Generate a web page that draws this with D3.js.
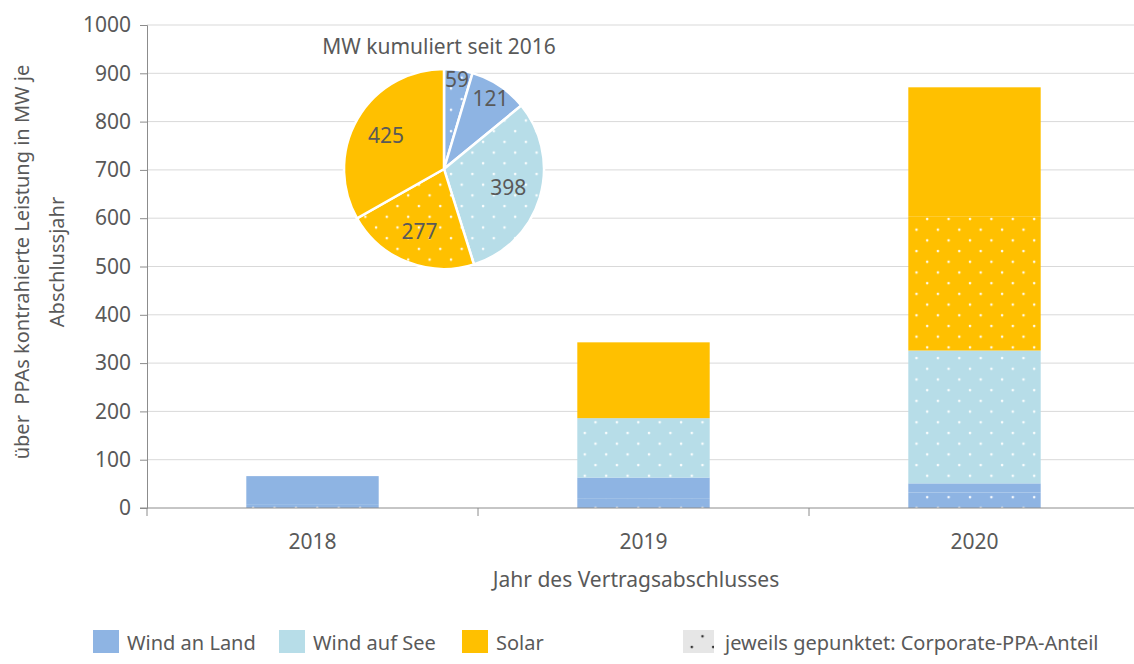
<!DOCTYPE html>
<html>
<head>
<meta charset="utf-8">
<script src="https://cdn.jsdelivr.net/npm/d3@7"></script>
<style>
  body { margin: 0; background: #fff; }
  svg text { font-family: "Noto Sans", sans-serif; fill: #595959; white-space: pre; }
</style>
</head>
<body>
<div id="chart"></div>
<script>
// data
const years = ["2018", "2019", "2020"];
const segments = [
  { key: "landCorp",  tech: "Wind an Land", dotted: true },
  { key: "land",      tech: "Wind an Land", dotted: false },
  { key: "seeCorp",   tech: "Wind auf See", dotted: true },
  { key: "solarCorp", tech: "Solar",        dotted: true },
  { key: "solar",     tech: "Solar",        dotted: false }
];
const landCorp  = [8, 19, 32];
const land      = [58, 44, 19];
const seeCorp   = [0, 123, 275];
const solarCorp = [0, 0, 277];
const solar     = [0, 157, 268];

const pieValues = [59, 121, 398, 277, 425];
const pieTechs  = ["Wind an Land", "Wind an Land", "Wind auf See", "Solar", "Solar"];
const pieDotted = [true, false, true, true, false];

const yTicks = [0, 100, 200, 300, 400, 500, 600, 700, 800, 900, 1000];
const legendItems = ["Wind an Land", "Wind auf See", "Solar"];

const colors = { "Wind an Land": "#8eb4e3", "Wind auf See": "#b7dde8", "Solar": "#ffc000" };

const width = 1134, height = 664;
const margin = { left: 147, right: -6, top: 25, bottom: 156 };
const fs = 21;

const svg = d3.select("#chart").append("svg")
  .attr("width", width).attr("height", height);

// dot patterns, one per colour plus the legend sample
const defs = svg.append("defs");
function dotPattern(id, bg, dot) {
  const p = defs.append("pattern").attr("id", id)
    .attr("patternUnits", "userSpaceOnUse")
    .attr("width", 21.4).attr("height", 21.4)
    .attr("x", 4).attr("y", 2);
  p.append("rect").attr("width", 21.4).attr("height", 21.4).attr("fill", bg);
  p.append("circle").attr("cx", 3).attr("cy", 3).attr("r", 1.3).attr("fill", dot);
  p.append("circle").attr("cx", 13.7).attr("cy", 13.7).attr("r", 1.3).attr("fill", dot);
}
Object.entries(colors).forEach(([k, c], i) => dotPattern("dots" + i, c, "rgba(255,255,255,0.9)"));
dotPattern("dotsLegend", "#e6e6e6", "#333");
const fillFor = (tech, dotted) => dotted
  ? `url(#dots${Object.keys(colors).indexOf(tech)})`
  : colors[tech];

const x = d3.scaleBand().domain(years)
  .range([margin.left, width - margin.right]).paddingInner(0.6).paddingOuter(0.3);
const y = d3.scaleLinear().domain([0, 1000]).range([height - margin.bottom, margin.top]);

// gridlines
svg.append("g").selectAll("line").data(yTicks.slice(1)).join("line")
  .attr("x1", margin.left).attr("x2", width)
  .attr("y1", d => y(d)).attr("y2", d => y(d))
  .attr("stroke", "#d9d9d9").attr("stroke-width", 1);

// stacked bars
const series = { landCorp, land, seeCorp, solarCorp, solar };
const stack = d3.stack().keys(segments.map(s => s.key))(
  years.map((yr, i) => {
    const o = { year: yr };
    segments.forEach(s => o[s.key] = series[s.key][i]);
    return o;
  })
);
stack.forEach((layer, li) => {
  const seg = segments[li];
  svg.append("g").selectAll("rect").data(layer.filter(d => d[1] > d[0])).join("rect")
    .attr("x", d => x(d.data.year))
    .attr("width", x.bandwidth())
    .attr("y", d => y(d[1]))
    .attr("height", d => y(d[0]) - y(d[1]))
    .attr("fill", fillFor(seg.tech, seg.dotted));
});

// axes
const yAxis = svg.append("g").attr("transform", `translate(${margin.left},0)`)
  .call(d3.axisLeft(y).tickValues(yTicks).tickFormat(d3.format("d")).tickSize(7).tickPadding(9));
const xAxis = svg.append("g").attr("transform", `translate(0,${y(0)})`)
  .call(d3.axisBottom(x).tickSize(0).tickPadding(26));
[yAxis, xAxis].forEach(g => {
  g.attr("font-size", null).attr("font-family", null);
  g.select(".domain").attr("stroke", "#8c8c8c");
  g.selectAll(".tick line").attr("stroke", "#8c8c8c");
  g.selectAll(".tick text").attr("font-size", fs).attr("fill", "#595959");
});
xAxis.select(".domain").attr("d", `M${margin.left - 7},0H${width}`);
// category separators on the x axis
const step = x.step();
svg.append("g").selectAll("line").data(years).join("line")
  .attr("x1", d => x(d) - step * 0.3).attr("x2", d => x(d) - step * 0.3)
  .attr("y1", y(0)).attr("y2", y(0) + 8)
  .attr("stroke", "#8c8c8c");

// axis titles
svg.append("text").attr("x", 636).attr("y", 587).attr("text-anchor", "middle")
  .attr("font-size", fs).text("Jahr des Vertragsabschlusses");
const yt = svg.append("text").attr("transform", `translate(29,262) rotate(-90)`)
  .attr("text-anchor", "middle").attr("font-size", 20);
yt.append("tspan").attr("x", 0).attr("dy", 0).text("über  PPAs kontrahierte Leistung in MW je");
yt.append("tspan").attr("x", 0).attr("dy", 35).text("Abschlussjahr");

// pie inset
const cx = 444, cy = 169, r = 100;
const pie = d3.pie().sort(null)(pieValues);
const arc = d3.arc().innerRadius(0).outerRadius(r);
const pg = svg.append("g").attr("transform", `translate(${cx},${cy})`);
pg.selectAll("path").data(pie).join("path")
  .attr("d", arc)
  .attr("fill", (d, i) => fillFor(pieTechs[i], pieDotted[i]))
  .attr("stroke", "#fff").attr("stroke-width", 2.5);
pg.selectAll("text").data(pie).join("text")
  .attr("transform", d => {
    const a = (d.startAngle + d.endAngle) / 2;
    const lr = (d.endAngle - d.startAngle) < 0.4 ? 0.9 * r
      : (d.endAngle - d.startAngle) < 0.7 ? 0.84 * r : 0.67 * r;
    return `translate(${Math.sin(a) * lr},${-Math.cos(a) * lr})`;
  })
  .attr("text-anchor", "middle").attr("dy", "0.35em")
  .attr("font-size", fs).text(d => d.data);
svg.append("text").attr("x", 439).attr("y", 54).attr("text-anchor", "middle")
  .attr("font-size", fs).text("MW kumuliert seit 2016");

// legend
const legendX = [93, 279, 462];
const lg = svg.append("g");
legendItems.forEach((t, i) => {
  lg.append("rect").attr("x", legendX[i]).attr("y", 630).attr("width", 26).attr("height", 23)
    .attr("fill", colors[t]);
  lg.append("text").attr("x", legendX[i] + 34).attr("y", 650).attr("font-size", 20).text(t);
});
lg.append("rect").attr("x", 683).attr("y", 630).attr("width", 31).attr("height", 23)
  .attr("fill", "url(#dotsLegend)");
lg.append("text").attr("x", 725).attr("y", 650).attr("font-size", 20)
  .text("jeweils gepunktet: Corporate-PPA-Anteil");
</script>
</body>
</html>
